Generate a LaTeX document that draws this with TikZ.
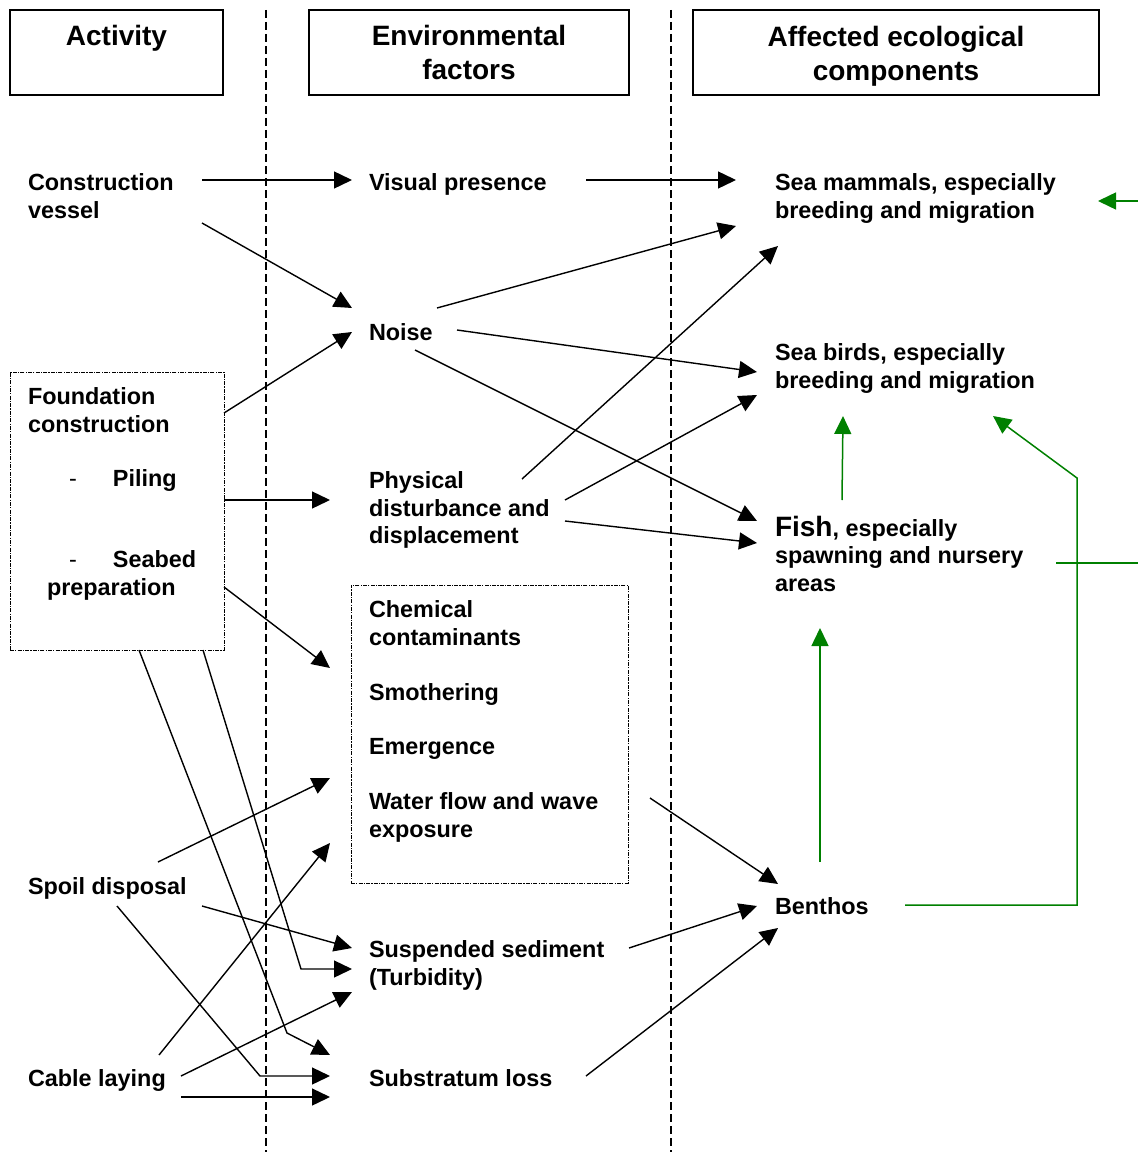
\documentclass[tikz,border=0pt]{standalone}
\usepackage{fontspec}
\setmainfont{Liberation Sans}
\usetikzlibrary{arrows.meta}
\definecolor{leafgreen}{RGB}{0,128,0}

\begin{document}
\begin{tikzpicture}[x=0.5pt, y=-0.5pt,
  lbl/.style={inner sep=0pt, outer sep=0pt, anchor=north west, align=left,
    font=\bfseries\fontsize{11.7}{13.7}\selectfont, execute at begin node=\strut},
  head/.style={draw, line width=0.75pt, inner sep=0pt, align=center,
    font=\bfseries\fontsize{14}{17}\selectfont, minimum height=42.5pt},
  frame/.style={draw, line width=0.5pt, inner sep=0pt, outer sep=0pt, anchor=north west,
    dash pattern=on 2pt off 0.6pt on 0.6pt off 0.6pt},
  arr/.style={-{Triangle[length=9pt, width=8.5pt]}, line width=0.7pt},
  garr/.style={arr, leafgreen, line width=0.75pt}]
\useasboundingbox (0,0) rectangle (1138,1156);
\clip (0,0) rectangle (1138,1156);

% Column headers
\node[head, minimum width=106.5pt] (hact) at (116.5,52.5) {Activity\\~};
\node[head, minimum width=160pt] (henv) at (469,52.5) {Environmental\\factors};
\node[head, minimum width=203pt] (heco) at (896,52.5) {\rule{0pt}{14.2pt}Affected ecological\\components};

% Column dividers
\draw[line width=0.6pt, dash pattern=on 4pt off 2pt] (266,10) -- (266,1152);
\draw[line width=0.6pt, dash pattern=on 4pt off 2pt] (671,10) -- (671,1152);

% Activities
\node[lbl] (cv) at (28,174) {Construction\\vessel};
\node[frame, minimum width=107pt, minimum height=139pt] (fbox) at (10,372) {};
\node[lbl] (fnd) at (28,388) {Foundation\\construction};
\node[lbl] (pil) at (69,467) {{\mdseries -}\hspace{18.1pt}Piling};
\node[lbl] (sbd) at (47,551) {\hspace*{11pt}{\mdseries -}\hspace{18.1pt}Seabed\\preparation};
\node[lbl] (spl) at (28,875) {Spoil disposal};
\node[lbl] (cab) at (28,1067) {Cable laying};

% Environmental factors
\node[lbl] (vis) at (369,171) {Visual presence};
\node[lbl] (noi) at (369,321) {Noise};
\node[lbl] (phy) at (369,472) {Physical\\disturbance and\\displacement};
\node[frame, minimum width=138.5pt, minimum height=149pt] (cbox) at (351,585) {};
\node[lbl] (chem) at (369,601) {Chemical\\contaminants\\[13.7pt]Smothering\\[13.7pt]Emergence\\[13.7pt]Water flow and wave\\exposure};
\node[lbl] (sus) at (369,941) {Suspended sediment\\(Turbidity)};
\node[lbl] (sub) at (369,1067) {Substratum loss};

% Ecological components
\node[lbl] (mam) at (775,174) {Sea mammals, especially\\breeding and migration};
\node[lbl] (bir) at (775,344) {Sea birds, especially\\breeding and migration};
\node[lbl] (fsh) at (775,516) {{\fontsize{14}{13.7}\selectfont Fish}, especially\\spawning and nursery\\areas};
\node[lbl] (ben) at (775,895) {Benthos};

% Activity -> factor
\draw[arr] ([shift={(174,6)}]cv.north west) -- ([shift={(-17,9)}]vis.north west);
\draw[arr] ([shift={(174,49)}]cv.north west) -- ([shift={(-17,-13)}]noi.north west);
\draw[arr] ([shift={(214,41)}]fbox.north west) -- ([shift={(-17,11)}]noi.north west);
\draw[arr] ([shift={(214,128)}]fbox.north west) -- ([shift={(-39,28)}]phy.north west);
\draw[arr] ([shift={(214,215)}]fbox.north west) -- ([shift={(-21,83)}]cbox.north west);
\draw[arr] ([shift={(129,278)}]fbox.north west) -- (287,1033) -- ([shift={(-39,-12)}]sub.north west);
\draw[arr] ([shift={(193,278)}]fbox.north west) -- (301,969) -- ([shift={(-17,28)}]sus.north west);
\draw[arr] ([shift={(130,-13)}]spl.north west) -- ([shift={(-21,193)}]cbox.north west);
\draw[arr] ([shift={(174,31)}]spl.north west) -- ([shift={(-17,7)}]sus.north west);
\draw[arr] ([shift={(89,31)}]spl.north west) -- (260,1076) -- ([shift={(-39,9)}]sub.north west);
\draw[arr] ([shift={(131,-12)}]cab.north west) -- ([shift={(-21,258)}]cbox.north west);
\draw[arr] ([shift={(153,9)}]cab.north west) -- ([shift={(-17,51)}]sus.north west);
\draw[arr] ([shift={(153,30)}]cab.north west) -- ([shift={(-39,30)}]sub.north west);

% Factor -> component
\draw[arr] ([shift={(217,9)}]vis.north west) -- ([shift={(-39,6)}]mam.north west);
\draw[arr] ([shift={(68,-13)}]noi.north west) -- ([shift={(-39,52)}]mam.north west);
\draw[arr] ([shift={(88,9)}]noi.north west) -- ([shift={(-18,28)}]bir.north west);
\draw[arr] ([shift={(46,29)}]noi.north west) -- ([shift={(-18,5)}]fsh.north west);
\draw[arr] ([shift={(153,7)}]phy.north west) -- ([shift={(3,72)}]mam.north west);
\draw[arr] ([shift={(196,28)}]phy.north west) -- ([shift={(-18,51)}]bir.north west);
\draw[arr] ([shift={(196,49)}]phy.north west) -- ([shift={(-18,27)}]fsh.north west);
\draw[arr] ([shift={(299,213)}]cbox.north west) -- ([shift={(3,-11)}]ben.north west);
\draw[arr] ([shift={(260,7)}]sus.north west) -- ([shift={(-18,11)}]ben.north west);
\draw[arr] ([shift={(217,9)}]sub.north west) -- ([shift={(3,33)}]ben.north west);

% Food web links (green)
\draw[garr] ([shift={(67,-16)}]fsh.north west) -- ([shift={(68,72)}]bir.north west);
\draw[garr] ([shift={(45,-33)}]ben.north west) -- ([shift={(45,112)}]fsh.north west);
\draw[garr] ([shift={(130,10)}]ben.north west) -- ++(172,0) -- ++(0,-427) -- ([shift={(218,72)}]bir.north west);
\draw[garr] ([shift={(281,47)}]fsh.north west) -- ++(110,0) |- ([shift={(323,27)}]mam.north west);
\end{tikzpicture}
\end{document}
